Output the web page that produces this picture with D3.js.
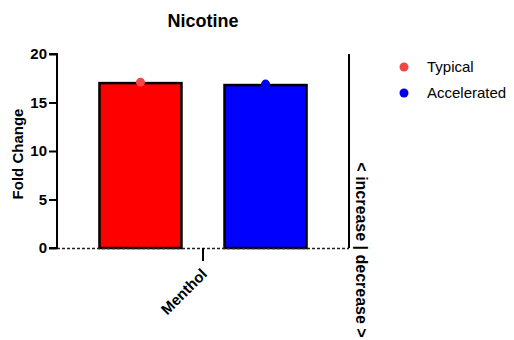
<!DOCTYPE html>
<html>
<head>
<meta charset="utf-8">
<script src="https://cdn.jsdelivr.net/npm/d3@7"></script>
<style>
  body { margin: 0; background: #fff; }
  text { font-family: Arial, "Liberation Sans", sans-serif; }
</style>
</head>
<body>
<svg id="chart" width="514" height="340"></svg>
<script>
const categories = ["Menthol"];
const series = ["Typical", "Accelerated"];
const barValues = [17.0, 16.8];
const pointValues = [17.1, 16.9];
const yTicks = [0, 5, 10, 15, 20];
const barColors = ["#ff0000", "#0000ff"];
const dotColors = ["#f04646", "#0000ee"];

const svg = d3.select("#chart");
const pLeft = 57, pRight = 349, pTop = 54, pBottom = 248;

const y = d3.scaleLinear().domain([0, 20]).range([pBottom, pTop]);
const x0 = d3.scaleBand().domain(categories).range([pLeft, pRight]).paddingInner(0).paddingOuter(0.205);
const x1 = d3.scaleBand().domain(series).range([0, x0.bandwidth()]).paddingInner(0.344).paddingOuter(0);

// title
svg.append("text").attr("x", 203).attr("y", 27).attr("text-anchor", "middle")
  .style("font-size", "18px").style("font-weight", "bold").text("Nicotine");

// bars
const g = svg.append("g");
series.forEach((s, i) => {
  const bx = x0(categories[0]) + x1(s);
  g.append("rect")
    .attr("x", bx).attr("y", y(barValues[i]))
    .attr("width", x1.bandwidth()).attr("height", y(0) - y(barValues[i]))
    .attr("fill", barColors[i]).attr("stroke", "#000").attr("stroke-width", 2.5);
});

// baseline dashed
svg.append("line").attr("x1", pLeft).attr("x2", pRight).attr("y1", y(0) + 0.5).attr("y2", y(0) + 0.5)
  .attr("stroke", "#222").attr("stroke-width", 1.5).attr("stroke-dasharray", "3,2");

// points
series.forEach((s, i) => {
  const cx = x0(categories[0]) + x1(s) + x1.bandwidth() / 2;
  svg.append("circle").attr("cx", cx).attr("cy", y(pointValues[i])).attr("r", 4.5).attr("fill", dotColors[i]);
});

// left axis
const yAxis = d3.axisLeft(y).tickValues(yTicks).tickSize(8).tickPadding(2);
const ya = svg.append("g").attr("transform", `translate(${pLeft},0)`).call(yAxis);
ya.select(".domain").attr("stroke", "#000").attr("stroke-width", 2).attr("d", `M-8,${pTop}H0V${pBottom}H-8`);
ya.selectAll(".tick line").attr("stroke", "#000").attr("stroke-width", 2);
ya.selectAll(".tick text").style("font-size", "15px").style("font-weight", "bold")
  .style("font-family", "Arial, 'Liberation Sans', sans-serif").attr("fill", "#000");

// right line
svg.append("line").attr("x1", pRight).attr("x2", pRight).attr("y1", pTop).attr("y2", pBottom)
  .attr("stroke", "#000").attr("stroke-width", 2);

// x axis tick & label
const xAxis = d3.axisBottom(x0).tickSize(13).tickPadding(0);
const xa = svg.append("g").attr("transform", `translate(0,${pBottom})`).call(xAxis);
xa.select(".domain").remove();
xa.selectAll(".tick line").attr("stroke", "#000").attr("stroke-width", 2);
xa.selectAll(".tick text")
  .style("font-size", "15px").style("font-weight", "bold")
  .style("font-family", "Arial, 'Liberation Sans', sans-serif").attr("fill", "#000")
  .attr("text-anchor", "end").attr("dy", null).attr("y", 0)
  .attr("transform", "translate(5,27) rotate(-45)");

// y axis title
svg.append("text").attr("transform", `translate(23,${(pTop + pBottom) / 2 + 3}) rotate(-90)`)
  .attr("text-anchor", "middle").style("font-size", "15px").style("font-weight", "bold").text("Fold Change");

// right label
svg.append("text").attr("transform", `translate(356,250) rotate(90)`)
  .attr("text-anchor", "middle").style("font-size", "16px").style("font-weight", "bold")
  .text("< increase | decrease >");

// legend
series.forEach((s, i) => {
  svg.append("circle").attr("cx", 404).attr("cy", 67 + i * 26).attr("r", 4.5).attr("fill", dotColors[i]);
  svg.append("text").attr("x", 427).attr("y", 67 + i * 26).attr("dy", "0.35em")
    .style("font-size", "15px").text(s);
});
</script>
</body>
</html>
